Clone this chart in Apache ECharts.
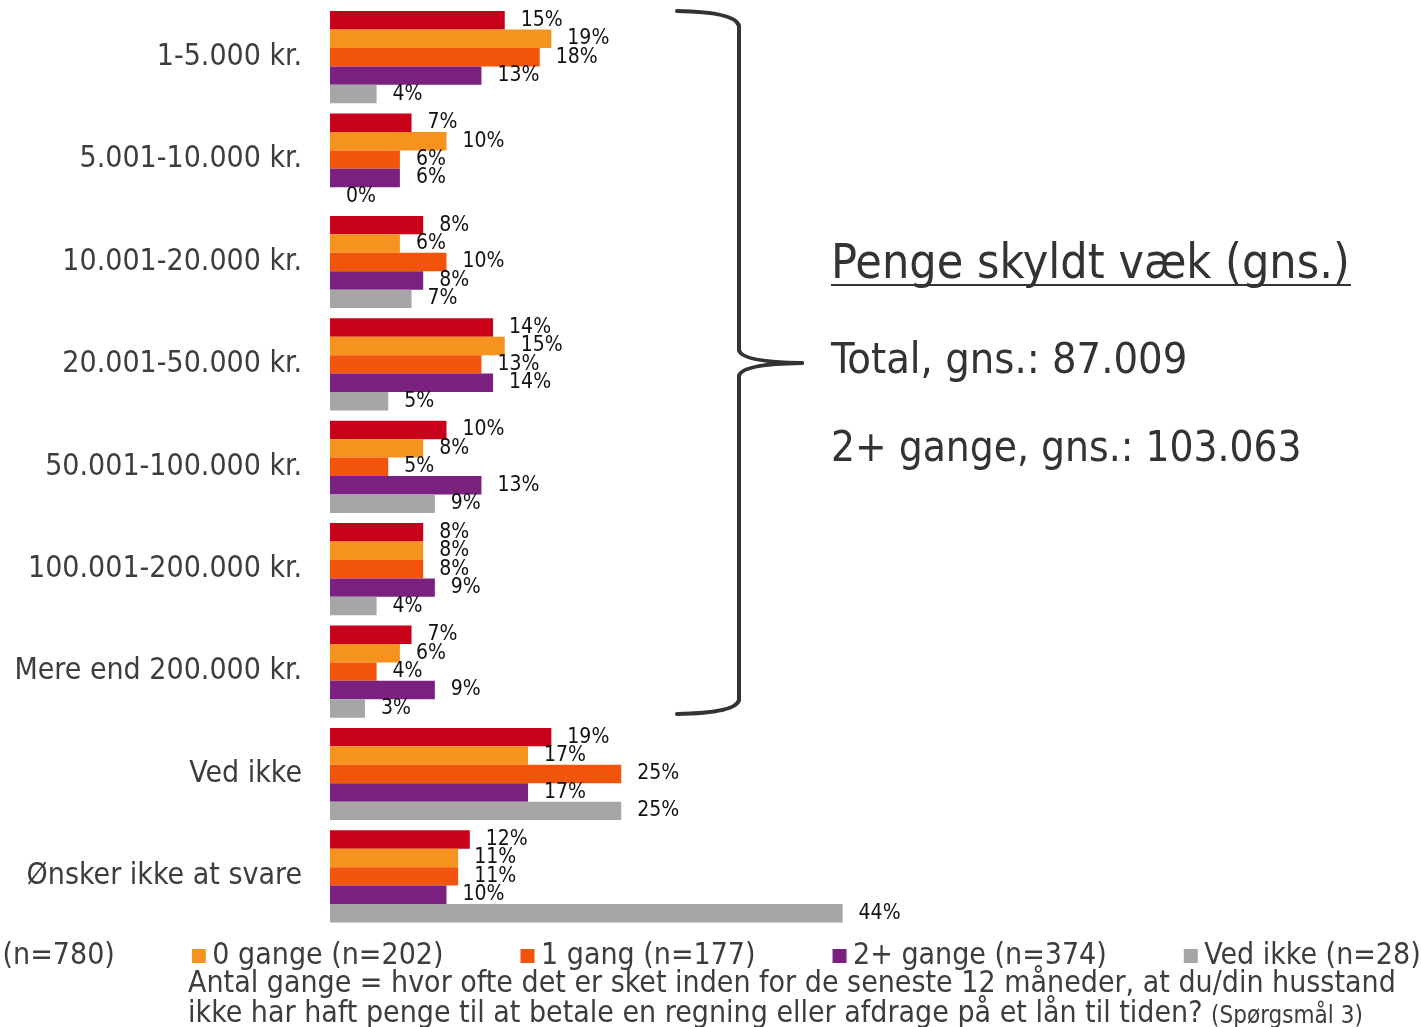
<!DOCTYPE html>
<html>
<head>
<meta charset="utf-8">
<script src="https://cdn.jsdelivr.net/npm/echarts@6/dist/echarts.min.js"></script>
<style>
html,body{margin:0;padding:0;background:#fff;}
#chart{width:1421px;height:1027px;}
</style>
</head>
<body>
<div id="chart"></div>
<script>
const categories = ['1-5.000 kr.', '5.001-10.000 kr.', '10.001-20.000 kr.', '20.001-50.000 kr.', '50.001-100.000 kr.', '100.001-200.000 kr.', 'Mere end 200.000 kr.', 'Ved ikke', 'Ønsker ikke at svare'];
const seriesNames = ['Total (n=780)', '0 gange (n=202)', '1 gang (n=177)', '2+ gange (n=374)', 'Ved ikke (n=28)'];
const totalVals  = [15, 7, 8, 14, 10, 8, 7, 19, 12];
const gange0Vals = [19, 10, 6, 15, 8, 8, 6, 17, 11];
const gang1Vals  = [18, 6, 10, 13, 5, 8, 4, 25, 11];
const gange2Vals = [13, 6, 8, 14, 13, 9, 9, 17, 10];
const vedIkkeVals = [4, 0, 7, 5, 9, 4, 3, 25, 44];
const colors = ['#C8001A', '#F6921E', '#F1540A', '#7A2180', '#A6A6A6'];
const sideTitle = 'Penge skyldt væk (gns.)';
const sideLine1 = 'Total, gns.: 87.009';
const sideLine2 = '2+ gange, gns.: 103.063';
const footLine1 = 'Antal gange = hvor ofte det er sket inden for de seneste 12 måneder, at du/din husstand';
const footLine2 = 'ikke har haft penge til at betale en regning eller afdrage på et lån til tiden? ';
const footNote = '(Spørgsmål 3)';

const FONT = '"DejaVu Sans Condensed", "DejaVu Sans", sans-serif';
const allVals = [totalVals, gange0Vals, gang1Vals, gange2Vals, vedIkkeVals];

const BR = { stroke: '#333', lineWidth: 4, fill: null, lineCap: 'round' };
const bracket = [
  { type: 'bezierCurve', shape: { x1: 677, y1: 11, cpx1: 736, cpy1: 12, x2: 739, y2: 26 }, style: BR },
  { type: 'line', shape: { x1: 739, y1: 26, x2: 739, y2: 350 }, style: BR },
  { type: 'bezierCurve', shape: { x1: 739, y1: 350, cpx1: 741, cpy1: 362, x2: 802, y2: 363 }, style: BR },
  { type: 'bezierCurve', shape: { x1: 802, y1: 363, cpx1: 741, cpy1: 364, x2: 739, y2: 376 }, style: BR },
  { type: 'line', shape: { x1: 739, y1: 376, x2: 739, y2: 700 }, style: BR },
  { type: 'bezierCurve', shape: { x1: 739, y1: 700, cpx1: 736, cpy1: 713, x2: 677, y2: 714 }, style: BR }
];

const chart = echarts.init(document.getElementById('chart'));
chart.setOption({
  animation: false,
  backgroundColor: '#fff',
  textStyle: { fontFamily: FONT },
  grid: { left: 330, top: 6, width: 582.5, height: 921.6, containLabel: false },
  xAxis: { type: 'value', min: 0, max: 50, show: false },
  yAxis: {
    type: 'category', data: categories, inverse: true,
    axisLine: { show: false }, axisTick: { show: false },
    axisLabel: { margin: 28, fontSize: 30, color: '#3d3d3d', fontFamily: FONT }
  },
  legend: {
    left: -89, top: 941, width: 1700, padding: 0, itemGap: 77,
    itemWidth: 17, itemHeight: 14, icon: 'path://M0,0L14,0L14,14L0,14Z',
    data: seriesNames,
    textStyle: { fontSize: 30, color: '#3d3d3d', fontFamily: FONT }
  },
  series: seriesNames.map((n, i) => ({
    name: n, type: 'bar', data: allVals[i],
    barGap: '0%', barCategoryGap: '10%',
    itemStyle: { color: colors[i] },
    label: { show: true, position: 'right', distance: 16, formatter: '{c}%', fontSize: 21, color: '#111', fontFamily: FONT }
  })),
  graphic: bracket.concat([
    { type: 'text', left: 831, top: 242, style: { text: sideTitle, font: '48px ' + FONT, fill: '#333' } },
    { type: 'rect', shape: { x: 831, y: 284, width: 520, height: 2 }, style: { fill: '#333' } },
    { type: 'text', left: 831, top: 340, style: { text: sideLine1, font: '43px ' + FONT, fill: '#333' } },
    { type: 'text', left: 831, top: 429, style: { text: sideLine2, font: '42px ' + FONT, fill: '#333' } },
    { type: 'text', left: 188, top: 969, style: { text: footLine1, font: '30px ' + FONT, fill: '#3d3d3d' } },
    { type: 'text', left: 188, top: 999, style: {
        text: '{a|' + footLine2 + '}{b|' + footNote + '}',
        rich: { a: { fontSize: 30, fontFamily: FONT, fill: '#3d3d3d' }, b: { fontSize: 24, fontFamily: FONT, fill: '#3d3d3d', padding: [5, 0, 0, 0] } } } }
  ])
});
</script>
</body>
</html>
